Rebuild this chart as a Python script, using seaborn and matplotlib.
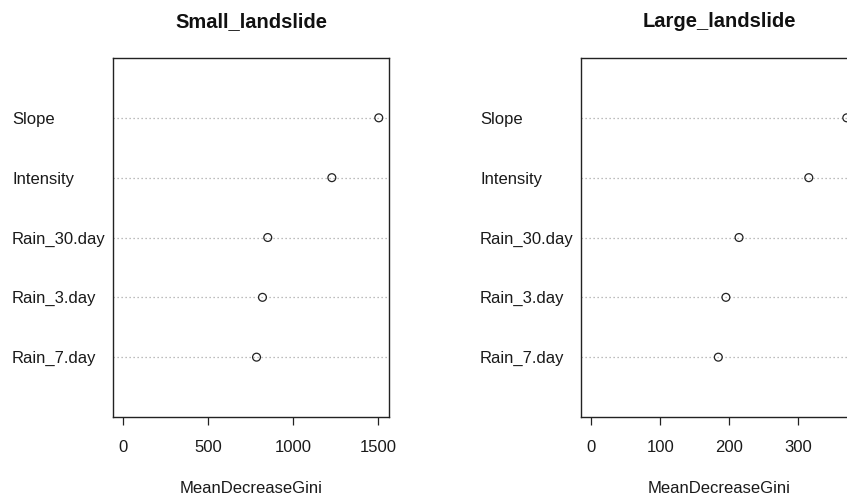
import numpy as np
import pandas as pd
import matplotlib
matplotlib.use("Agg")
import matplotlib.pyplot as plt
import seaborn as sns

# Data (bottom to top, as drawn by R's dotchart)
variables = ["Rain_7.day", "Rain_3.day", "Rain_30.day", "Intensity", "Slope"]
small_gini = [784, 819, 850, 1227, 1503]
large_gini = [184, 195, 214, 315, 370]
titles = ["Small_landslide", "Large_landslide"]
small_ticks = [0, 500, 1000, 1500]
large_ticks = [0, 100, 200, 300]
xlabel = "MeanDecreaseGini"

sns.set_style("white")
plt.rcParams["font.family"] = ["Liberation Sans", "DejaVu Sans"]

W, H = 847, 495
fig = plt.figure(figsize=(W / 100, H / 100), dpi=100)

box_top, box_bot = 58, 417
box_w = 276
lefts = [113, 581]

panels = [(small_gini, small_ticks), (large_gini, large_ticks)]
for i, ((vals, ticks), title) in enumerate(zip(panels, titles)):
    ax = fig.add_axes([lefts[i] / W, 1 - box_bot / H, box_w / W, (box_bot - box_top) / H])
    df = pd.DataFrame({"var": variables, "value": vals,
                       "pos": np.arange(1, len(variables) + 1)})
    for p in df["pos"]:
        ax.axhline(p, color="#a8a8a8", linestyle=(0, (1, 2.2)), linewidth=0.9, zorder=1)
    sns.scatterplot(data=df, x="value", y="pos", ax=ax, marker="o", s=32,
                    facecolor="none", edgecolor="#222222", linewidth=0.9, zorder=3)
    vmax = max(vals)
    ax.set_xlim(-0.04 * vmax, 1.04 * vmax)
    ax.set_ylim(0, len(variables) + 1)
    ax.set_xticks(ticks)
    ax.set_xticklabels([str(t) for t in ticks], fontsize=12, color="#1a1a1a")
    ax.set_yticks(df["pos"])
    ax.set_yticklabels(variables, fontsize=12, color="#1a1a1a")
    for lab in ax.get_yticklabels():
        lab.set_horizontalalignment("left")
    ax.tick_params(axis="y", length=0, pad=101 * 0.72)
    ax.tick_params(axis="x", direction="out", length=6, width=0.9, color="#222222",
                   pad=10.5, bottom=True)
    ax.set_xlabel(xlabel, fontsize=12, color="#1a1a1a", labelpad=18.5)
    ax.set_ylabel("")
    ax.set_title(title, fontsize=14.5, fontweight="bold", pad=22, color="#111111")
    for s in ax.spines.values():
        s.set_visible(True)
        s.set_color("#222222")
        s.set_linewidth(1.0)
    ax.grid(False)

fig.savefig("out.png", dpi=100)
